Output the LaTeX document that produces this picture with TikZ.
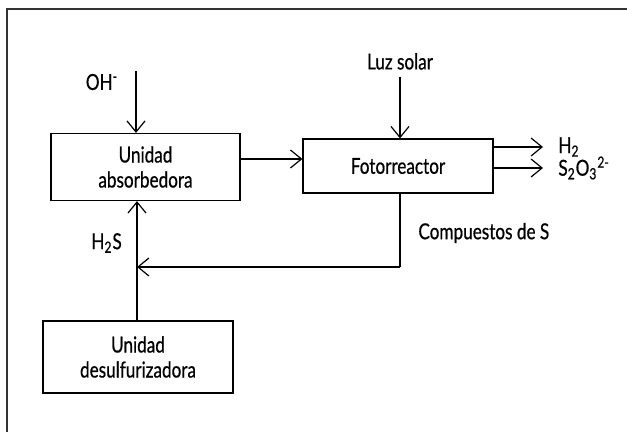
\documentclass[tikz,border=0pt]{standalone}
\usepackage{fontspec}
\setmainfont[FakeStretch=0.78,FakeBold=0.6]{Lato}
\usetikzlibrary{arrows.meta}
\begin{document}
\begin{tikzpicture}[x=0.5pt,y=-0.5pt,
  bloque/.style={draw,line width=0.6pt,align=center,inner sep=0pt,font=\fontsize{11}{12.5}\selectfont},
  rotulo/.style={font=\fontsize{11}{12.5}\selectfont,inner sep=0pt},
  flecha/.style={line width=0.6pt,-{Straight Barb[length=5.5pt,width=9pt,line width=0.6pt]}},
  linea/.style={line width=0.6pt}]
\useasboundingbox (0,0) rectangle (627,432);
\draw[line width=1pt,black!80] (7,432) -- (7,9) -- (627,9);
% bloques
\node[bloque,minimum width=94.5pt,minimum height=33.5pt] (abs) at (145.5,167) {Unidad\\absorbedora};
\node[bloque,minimum width=95pt,minimum height=27pt] (foto) at (398,166) {Fotorreactor};
\node[bloque,minimum width=95pt,minimum height=36pt] (desul) at (138,357) {Unidad\\desulfurizadora};
% entradas
\coordinate (oh) at (136,71);
\coordinate (luz) at (400,77);
\node[rotulo] (ohlab) at (102,82) {OH\textsuperscript{-}};
\node[rotulo,anchor=south] (luzlab) at (400,70) {Luz solar};
\path[draw,flecha] (oh) -- (oh |- abs.north);
\path[draw,flecha] (luz) -- (luz |- foto.north);
\path[draw,flecha] (abs.east |- 0,159) -- (foto.west |- 0,159);
% salidas
\coordinate (h2) at (543,147);
\coordinate (s2o3) at (543,168);
\path[draw,flecha] (foto.east |- h2) -- (h2);
\path[draw,flecha] (foto.east |- s2o3) -- (s2o3);
\node[rotulo,anchor=west] (h2lab) at (558,147) {H\textsubscript{2}};
\node[rotulo,anchor=west] (s2o3lab) at (558,168) {S\textsubscript{2}O\textsubscript{3}\textsuperscript{2-}};
% retorno
\coordinate (baja) at (400,267);
\path[draw,linea] (foto.south -| baja) -- (baja);
\path[draw,flecha] (baja) -- (137,267);
\node[rotulo,anchor=west] (comp) at (418,233) {Compuestos de S};
\path[draw,flecha] (desul.north -| 137,0) -- (abs.south -| 137,0);
\node[rotulo,anchor=west] (h2s) at (91,243) {H\textsubscript{2}S};
\end{tikzpicture}
\end{document}
